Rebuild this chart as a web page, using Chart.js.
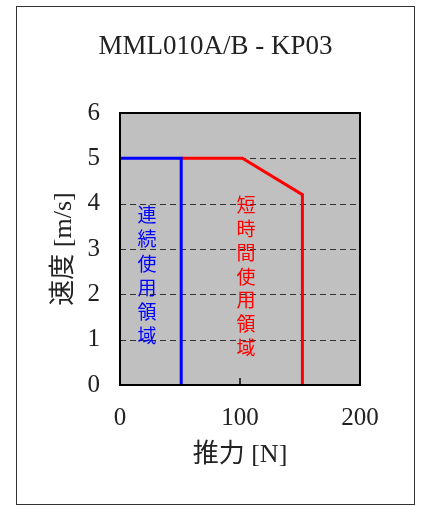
<!DOCTYPE html>
<html>
<head>
<meta charset="utf-8">
<script src="https://cdn.jsdelivr.net/npm/chart.js@4/dist/chart.umd.min.js"></script>
<style>
  html, body { margin: 0; padding: 0; background: #ffffff; }
  #wrap { width: 423px; height: 507px; position: relative; }
</style>
</head>
<body>
<div id="wrap"><canvas id="c" width="423" height="507"></canvas></div>
<script>
// ---- data ----
const chartTitle = "MML010A/B - KP03";
const xAxisTitle = "推力 [N]";
const yAxisTitle = "速度 [m/s]";
const xTickValues = [0, 100, 200];
const yTickValues = [0, 1, 2, 3, 4, 5, 6];
const continuousForce = [0, 51, 51];
const continuousSpeed = [5, 5, 0];
const shortTimeForce = [51, 102, 152, 152];
const shortTimeSpeed = [5, 5, 4.2, 0];
const continuousLabel = "連続使用領域";
const shortTimeLabel = "短時間使用領域";

const SERIF = '"Liberation Serif", "Noto Sans CJK JP", serif';
const CJK = '"Noto Sans CJK JP", sans-serif';

function toPoints(xs, ys) { return xs.map((x, i) => ({ x: x, y: ys[i] })); }

const decorPlugin = {
  id: 'decor',
  beforeDraw(chart) {
    const { ctx, chartArea: a, scales } = chart;
    ctx.save();
    ctx.fillStyle = '#ffffff';
    ctx.fillRect(0, 0, chart.width, chart.height);
    ctx.fillStyle = '#c0c0c0';
    ctx.fillRect(a.left, a.top, a.right - a.left, a.bottom - a.top);
    // dashed horizontal grid lines (inner ticks only)
    ctx.strokeStyle = '#333333';
    ctx.lineWidth = 1;
    ctx.setLineDash([6, 4]);
    yTickValues.forEach(v => {
      if (v === scales.y.min || v === scales.y.max) return;
      const py = Math.round(scales.y.getPixelForValue(v)) + 0.5;
      ctx.beginPath();
      ctx.moveTo(a.left, py);
      ctx.lineTo(a.right, py);
      ctx.stroke();
    });
    ctx.setLineDash([]);
    // outer frame
    ctx.strokeStyle = '#333333';
    ctx.lineWidth = 1;
    ctx.strokeRect(16.5, 6.5, 398, 498);
    // title
    ctx.fillStyle = '#222222';
    ctx.font = '27px ' + SERIF;
    ctx.textAlign = 'center';
    ctx.textBaseline = 'alphabetic';
    ctx.fillText(chartTitle, 215.5, 54);
    ctx.restore();
  },
  beforeDatasetsDraw(chart) {
    const { ctx, chartArea: a, scales } = chart;
    ctx.save();
    // inner tick marks on x axis
    ctx.strokeStyle = '#333333';
    ctx.lineWidth = 2;
    xTickValues.forEach(v => {
      const px = Math.round(scales.x.getPixelForValue(v));
      ctx.beginPath();
      ctx.moveTo(px, a.bottom);
      ctx.lineTo(px, a.bottom - 7);
      ctx.stroke();
    });
    // vertical region labels
    ctx.font = '19px ' + CJK;
    ctx.textAlign = 'center';
    ctx.textBaseline = 'middle';
    const drawVertical = (text, xVal, yVal, color, step) => {
      const px = scales.x.getPixelForValue(xVal);
      const py = scales.y.getPixelForValue(yVal);
      ctx.fillStyle = color;
      Array.from(text).forEach((ch, i) => ctx.fillText(ch, px, py + i * step));
    };
    drawVertical(continuousLabel, 22.5, 3.75, '#0000ff', 24.2);
    drawVertical(shortTimeLabel, 105, 3.97, '#ff0000', 23.8);
    ctx.restore();
  },
  afterDraw(chart) {
    const { ctx, chartArea: a } = chart;
    ctx.save();
    ctx.strokeStyle = '#000000';
    ctx.lineWidth = 2;
    ctx.strokeRect(a.left, a.top, a.right - a.left, a.bottom - a.top);
    ctx.restore();
  }
};

new Chart(document.getElementById('c'), {
  type: 'scatter',
  data: {
    datasets: [
      {
        label: continuousLabel,
        data: toPoints(continuousForce, continuousSpeed),
        showLine: true,
        borderColor: '#0000ff',
        backgroundColor: '#0000ff',
        borderWidth: 3,
        pointRadius: 0,
        tension: 0,
        clip: false
      },
      {
        label: shortTimeLabel,
        data: toPoints(shortTimeForce, shortTimeSpeed),
        showLine: true,
        borderColor: '#ff0000',
        backgroundColor: '#ff0000',
        borderWidth: 3,
        pointRadius: 0,
        tension: 0,
        clip: false
      }
    ]
  },
  options: {
    responsive: false,
    animation: false,
    layout: { padding: { top: 113, right: 63, left: 0, bottom: 0 } },
    plugins: {
      legend: { display: false },
      title: { display: false },
      tooltip: { enabled: false }
    },
    scales: {
      x: {
        type: 'linear',
        min: 0,
        max: 200,
        afterBuildTicks: s => { s.ticks = xTickValues.map(v => ({ value: v })); },
        afterFit: s => { s.height = 122; },
        ticks: {
          color: '#222222',
          font: { family: SERIF, size: 25 },
          padding: 18,
          maxRotation: 0
        },
        grid: { display: true, drawOnChartArea: false, drawTicks: false },
        border: { display: true, color: '#000000', width: 2 },
        title: {
          display: true,
          text: xAxisTitle,
          color: '#222222',
          font: { family: SERIF, size: 26 },
          padding: { top: 0, bottom: 36 }
        }
      },
      y: {
        type: 'linear',
        min: 0,
        max: 6,
        afterBuildTicks: s => { s.ticks = yTickValues.map(v => ({ value: v })); },
        afterFit: s => { s.width = 120; },
        ticks: {
          color: '#222222',
          font: { family: SERIF, size: 25 },
          padding: 20
        },
        grid: { display: true, drawOnChartArea: false, drawTicks: false },
        border: { display: true, color: '#000000', width: 2 },
        title: {
          display: true,
          text: yAxisTitle,
          color: '#222222',
          font: { family: SERIF, size: 26 },
          padding: { top: 49, bottom: 0 }
        }
      }
    }
  },
  plugins: [decorPlugin]
});
</script>
</body>
</html>
